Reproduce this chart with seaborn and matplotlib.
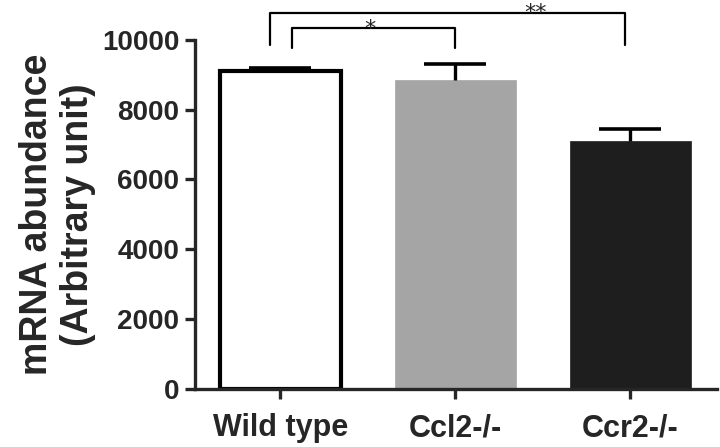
import matplotlib
matplotlib.use("Agg")
import matplotlib.pyplot as plt
import seaborn as sns
import pandas as pd

categories = ["Wild type", "Ccl2-/-", "Ccr2-/-"]
means = [9100, 8850, 7110]
errors = [100, 460, 345]
bar_colors = ["#ffffff", "#a5a5a5", "#1e1e1e"]
y_ticks = [0, 2000, 4000, 6000, 8000, 10000]
comparisons = [(0, 1, "*"), (0, 2, "**")]

sns.set_style("ticks")
plt.rcParams["font.family"] = ["Liberation Sans", "DejaVu Sans"]
plt.rcParams["font.weight"] = "bold"

df = pd.DataFrame({"group": categories, "value": means})

fig = plt.figure(figsize=(7.2, 4.47), dpi=100)
ax = fig.add_axes([0.271, 0.130, 0.725, 0.781])

sns.barplot(data=df, x="group", y="value", hue="group", palette=bar_colors,
            width=0.69, legend=False, ax=ax, errorbar=None, saturation=1)
for i, p in enumerate(ax.patches):
    if i == 0:
        p.set_edgecolor("black")
        p.set_linewidth(3.0)
    else:
        p.set_edgecolor(bar_colors[i])
        p.set_linewidth(0.5)

# error bars (upper only)
eb = ax.errorbar(range(len(categories)), means, yerr=[[0]*3, errors], fmt="none",
                 ecolor="black", elinewidth=2.4, capsize=22, capthick=2.6, zorder=5)
eb[1][0].set_visible(False)

ax.set_xlim(-0.486, 2.497)
ax.set_ylim(0, 10000)
ax.set_yticks(y_ticks)
ax.set_yticklabels([str(t) for t in y_ticks], fontsize=20, fontweight="bold")
ax.set_xticks(range(len(categories)))
ax.set_xticklabels(categories, fontsize=22, fontweight="bold")
ax.set_xlabel("")
ax.set_ylabel("mRNA abundance\n(Arbitrary unit)", fontsize=27, fontweight="bold",
              labelpad=4, linespacing=1.2)

for s in ["top", "right"]:
    ax.spines[s].set_visible(False)
for s in ["left", "bottom"]:
    ax.spines[s].set_linewidth(2.4)
ax.tick_params(axis="both", width=2.4, length=7.5, direction="out")
ax.tick_params(axis="x", pad=10)
ax.tick_params(axis="y", pad=4)

# significance brackets
bracket_specs = {
    (0, 1): dict(x0=0.07, x1=1.0, top=10340, low=9770, tx=0.51, ty=10140),
    (0, 2): dict(x0=-0.06, x1=1.97, top=10780, low=9860, tx=1.46, ty=10600),
}
for a, b, label in comparisons:
    sp = bracket_specs[(a, b)]
    ax.plot([sp["x0"], sp["x0"], sp["x1"], sp["x1"]],
            [sp["low"], sp["top"], sp["top"], sp["low"]],
            color="black", lw=1.6, clip_on=False)
    ax.text(sp["tx"], sp["ty"], label, ha="center", va="baseline",
            fontsize=16, fontweight="normal", family="DejaVu Sans", clip_on=False)

fig.savefig("out.png", dpi=100)
